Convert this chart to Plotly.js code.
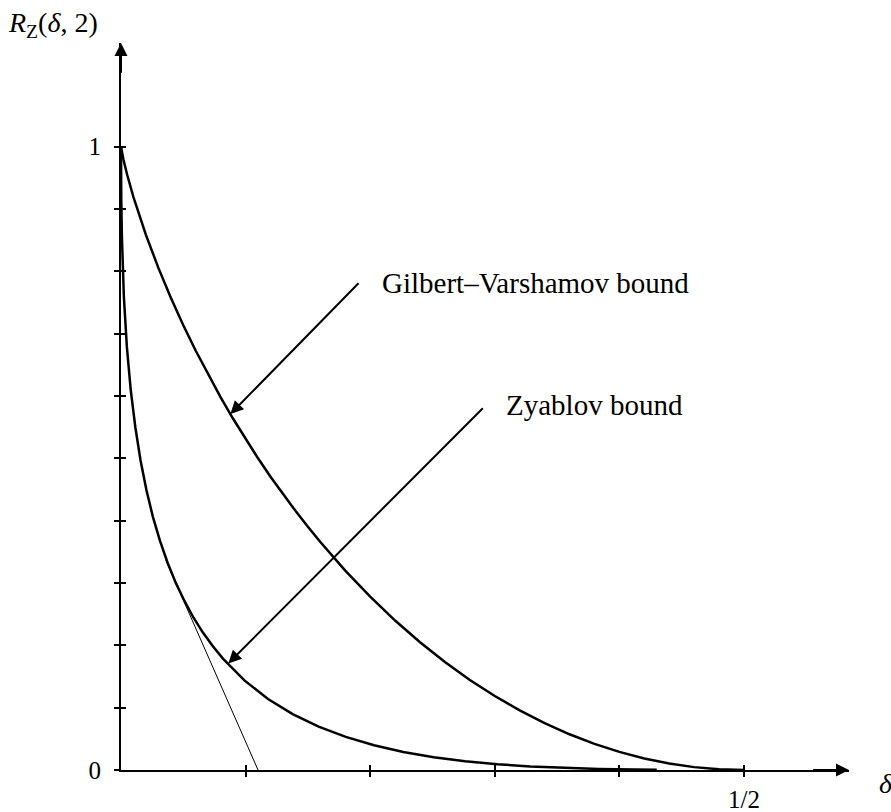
<!DOCTYPE html>
<html>
<head>
<meta charset="utf-8">
<script src="https://cdn.plot.ly/plotly-3.0.1.min.js"></script>
<style>html,body{margin:0;padding:0;background:#fff;}#chart{width:891px;height:812px;}</style>
</head>
<body>
<div id="chart"></div>
<script>
// Gilbert–Varshamov bound
const gvDelta = [0, 0.001, 0.002, 0.005, 0.01, 0.02, 0.03, 0.04, 0.05, 0.06, 0.07, 0.08, 0.09, 0.10, 0.11, 0.12, 0.13, 0.14, 0.15, 0.16, 0.18, 0.20, 0.22, 0.24, 0.26, 0.28, 0.30, 0.32, 0.34, 0.36, 0.38, 0.40, 0.42, 0.44, 0.46, 0.48, 0.50];
const gvRate  = [1, 0.9886, 0.979, 0.9546, 0.9192, 0.8586, 0.8056, 0.7577, 0.7136, 0.6726, 0.6341, 0.5978, 0.5635, 0.531, 0.5001, 0.4706, 0.4426, 0.4158, 0.3902, 0.3657, 0.3199, 0.2781, 0.2398, 0.2050, 0.1733, 0.1445, 0.1187, 0.0956, 0.0752, 0.0573, 0.0420, 0.0290, 0.0186, 0.0104, 0.0046, 0.0012, 0];

// Zyablov bound
const zyDelta = [0, 0.00001, 0.0002, 0.0007, 0.0023, 0.0047, 0.0078, 0.0115, 0.0157, 0.0204, 0.0256, 0.0313, 0.0374, 0.0439, 0.0508, 0.0580, 0.0656, 0.0736, 0.0818, 0.0993, 0.1180, 0.1378, 0.1586, 0.1804, 0.2031, 0.2266, 0.2510, 0.2762, 0.3021, 0.3286, 0.3558, 0.3836, 0.4120, 0.43];
const zyRate  = [1, 0.9787, 0.9179, 0.8574, 0.7593, 0.6788, 0.6100, 0.5499, 0.4967, 0.4491, 0.4062, 0.3676, 0.3325, 0.3006, 0.2716, 0.2451, 0.2209, 0.1989, 0.1787, 0.1434, 0.1140, 0.0896, 0.0696, 0.0531, 0.0397, 0.0290, 0.0206, 0.0141, 0.0092, 0.0057, 0.0032, 0.0016, 0.00066, 0.0003];

// thin tangent line (single inner-code rate 1/2)
const tanDelta = [0.036, 0.110];
const tanRate  = [0.3364, 0];

// ticks
const xTickVals = [0.1, 0.2, 0.3, 0.4, 0.5];
const xTickText = ['', '', '', '', '1/2'];
const yTickVals = [0, 0.1, 0.2, 0.3, 0.4, 0.5, 0.6, 0.7, 0.8, 0.9, 1.0];
const yTickText = ['0', '', '', '', '', '', '', '', '', '', '1'];

// labels and arrows
const gvLabel = 'Gilbert–Varshamov bound';
const zyLabel = 'Zyablov bound';
const gvArrow = {tail: [0.1918, 0.7834], head: [0.0878, 0.571]};
const zyArrow = {tail: [0.2916, 0.5829], head: [0.0861, 0.171]};
const gvLabelPos = [0.2075, 0.7813];
const zyLabelPos = [0.307, 0.5856];

const XMAX = 0.5843, YMAX = 1.1664;
const FONT = 'Liberation Serif, DejaVu Serif, serif';

const traces = [
  {x: gvDelta, y: gvRate, mode: 'lines', line: {color: '#000', width: 2.5}, xaxis: 'x', yaxis: 'y', hoverinfo: 'skip'},
  {x: zyDelta, y: zyRate, mode: 'lines', line: {color: '#000', width: 2.5}, xaxis: 'x', yaxis: 'y2', hoverinfo: 'skip'},
  {x: tanDelta, y: tanRate, mode: 'lines', line: {color: '#000', width: 1}, xaxis: 'x2', yaxis: 'y', hoverinfo: 'skip'}
];

const axBase = {showgrid: false, zeroline: false, tickcolor: '#000', tickwidth: 2, ticklen: 5,
  tickfont: {family: FONT, size: 25, color: '#000'}};

const layout = {
  width: 891, height: 812,
  margin: {l: 121, r: 42, t: 43, b: 42},
  paper_bgcolor: '#fff', plot_bgcolor: '#fff',
  showlegend: false,
  xaxis: Object.assign({}, axBase, {range: [0, XMAX], showline: true, linecolor: '#000', linewidth: 2,
    tickvals: xTickVals, ticktext: xTickText, ticks: 'outside', ticklabelstandoff: 1, anchor: 'y'}),
  xaxis2: Object.assign({}, axBase, {range: [0, XMAX], overlaying: 'x', anchor: 'y', side: 'bottom',
    tickvals: xTickVals, showticklabels: false, ticks: 'inside', showline: false}),
  yaxis: Object.assign({}, axBase, {range: [0, YMAX], showline: true, linecolor: '#000', linewidth: 2,
    tickvals: yTickVals, ticktext: yTickText, ticks: 'outside', ticklabelstandoff: 8, anchor: 'x'}),
  yaxis2: Object.assign({}, axBase, {range: [0, YMAX], overlaying: 'y', anchor: 'x', side: 'left',
    tickvals: yTickVals.slice(1), showticklabels: false, ticks: 'inside', showline: false}),
  annotations: [
    // axis arrowheads
    {x: XMAX, y: 0, ax: XMAX - 0.03, ay: 0, xref: 'x', yref: 'y', axref: 'x', ayref: 'y', text: '',
     showarrow: true, arrowhead: 2, arrowsize: 1.3, arrowwidth: 2, arrowcolor: '#000'},
    {x: 0, y: YMAX, ax: 0, ay: YMAX - 0.05, xref: 'x', yref: 'y', axref: 'x', ayref: 'y', text: '',
     showarrow: true, arrowhead: 2, arrowsize: 1.3, arrowwidth: 2, arrowcolor: '#000'},
    // pointer arrows
    {x: gvArrow.head[0], y: gvArrow.head[1], ax: gvArrow.tail[0], ay: gvArrow.tail[1], xref: 'x', yref: 'y', axref: 'x', ayref: 'y',
     text: '', showarrow: true, arrowhead: 2, arrowsize: 1.3, arrowwidth: 2, arrowcolor: '#000'},
    {x: zyArrow.head[0], y: zyArrow.head[1], ax: zyArrow.tail[0], ay: zyArrow.tail[1], xref: 'x', yref: 'y', axref: 'x', ayref: 'y',
     text: '', showarrow: true, arrowhead: 2, arrowsize: 1.3, arrowwidth: 2, arrowcolor: '#000'},
    // labels
    {x: gvLabelPos[0], y: gvLabelPos[1], xref: 'x', yref: 'y', text: gvLabel, showarrow: false,
     xanchor: 'left', yanchor: 'middle', font: {family: FONT, size: 29, color: '#000'}},
    {x: zyLabelPos[0], y: zyLabelPos[1], xref: 'x', yref: 'y', text: zyLabel, showarrow: false,
     xanchor: 'left', yanchor: 'middle', font: {family: FONT, size: 29, color: '#000'}},
    // axis titles
    {x: -0.0934, y: 1.0248, xref: 'paper', yref: 'paper', text: '<i>R</i><sub>Z</sub>(<i>δ</i>, 2)', showarrow: false,
     xanchor: 'center', yanchor: 'middle', font: {family: FONT, size: 28, color: '#000'}},
    {x: 1.0508, y: -0.0179, xref: 'paper', yref: 'paper', text: '<i>δ</i>', showarrow: false,
     xanchor: 'center', yanchor: 'middle', font: {family: FONT, size: 28, color: '#000'}}
  ]
};

Plotly.newPlot('chart', traces, layout, {displayModeBar: false, staticPlot: true});
</script>
</body>
</html>
